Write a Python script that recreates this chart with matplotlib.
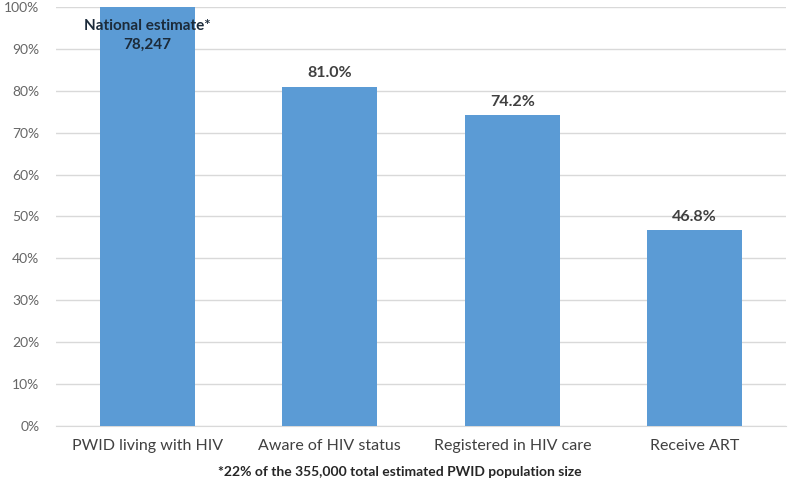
import numpy as np
import matplotlib.pyplot as plt

categories = ["PWID living with HIV", "Aware of HIV status", "Registered in HIV care", "Receive ART"]
values = [100.0, 81.0, 74.2, 46.8]
value_labels = ["National estimate*\n78,247", "81.0%", "74.2%", "46.8%"]
footnote = "*22% of the 355,000 total estimated PWID population size"

plt.rcParams['font.family'] = ['Lato', 'DejaVu Sans']

fig = plt.figure(figsize=(8, 4.92), dpi=100)
ax = fig.add_axes([0.07, 0.134, 0.9125, 0.852])

x = np.arange(len(categories))
bars = ax.bar(x, values, width=0.52, color='#5B9BD5', zorder=3)

ax.set_xlim(-0.5, len(categories) - 0.5)
ax.set_ylim(0, 100)
ax.set_yticks(np.arange(0, 101, 10))
ax.set_yticklabels(["{}%".format(v) for v in range(0, 101, 10)])
ax.set_xticks(x)
ax.set_xticklabels(categories)

ax.yaxis.grid(True, color='#d9d9d9', linewidth=1, zorder=0)
for s in ['top', 'right', 'left']:
    ax.spines[s].set_visible(False)
ax.spines['bottom'].set_color('#d9d9d9')
ax.tick_params(axis='both', length=0)
ax.tick_params(axis='y', labelsize=10, colors='#666666', pad=12)
ax.tick_params(axis='x', labelsize=11.5, colors='#404040', pad=9)

for i, (v, lab) in enumerate(zip(values, value_labels)):
    if i == 0:
        ax.text(i, v - 3.0, lab, ha='center', va='top', fontsize=11,
                fontweight='bold', color='#1c2b3a', linespacing=1.35)
    else:
        ax.text(i, v + 1.5, lab, ha='center', va='bottom', fontsize=11.5,
                fontweight='bold', color='#404040')

fig.text(0.5, 0.04, footnote, ha='center', va='center', fontsize=10,
         fontweight='bold', color='#262626')

fig.savefig('out.png', dpi=100)
